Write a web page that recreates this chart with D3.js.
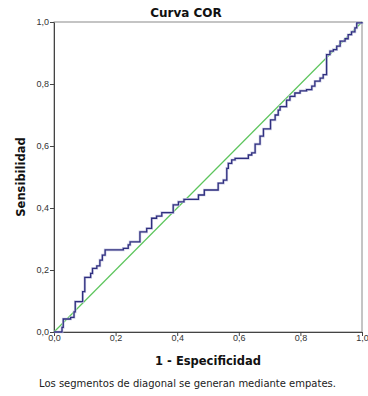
<!DOCTYPE html>
<html>
<head>
<meta charset="utf-8">
<script src="https://cdn.jsdelivr.net/npm/d3@7"></script>
<style>
  body { margin: 0; background: #fff; }
  svg { display: block; font-family: "DejaVu Sans", sans-serif; }
</style>
</head>
<body>
<div id="chart"></div>
<script>
// ROC step curve knots (1 - especificidad, sensibilidad)
const fpr = [0, 0.026, 0.03, 0.054, 0.065, 0.069, 0.093, 0.1, 0.119, 0.125, 0.139, 0.149, 0.157, 0.166,
  0.225, 0.241, 0.247, 0.279, 0.301, 0.317, 0.333, 0.35, 0.387, 0.404, 0.422, 0.469, 0.488, 0.533, 0.55,
  0.561, 0.566, 0.577, 0.588, 0.631, 0.642, 0.653, 0.669, 0.68, 0.703, 0.718, 0.728, 0.734, 0.755, 0.766,
  0.782, 0.799, 0.82, 0.837, 0.847, 0.864, 0.874, 0.885, 0.885, 0.896, 0.907, 0.918, 0.929, 0.945, 0.955,
  0.966, 0.977, 0.983, 1];
const tpr = [0, 0.015, 0.042, 0.047, 0.065, 0.098, 0.13, 0.176, 0.189, 0.205, 0.213, 0.232, 0.248, 0.265,
  0.27, 0.281, 0.291, 0.323, 0.334, 0.367, 0.374, 0.385, 0.41, 0.42, 0.428, 0.442, 0.458, 0.48, 0.49,
  0.528, 0.544, 0.555, 0.56, 0.571, 0.578, 0.606, 0.632, 0.655, 0.684, 0.7, 0.716, 0.727, 0.748, 0.76,
  0.771, 0.778, 0.782, 0.793, 0.809, 0.819, 0.83, 0.835, 0.895, 0.906, 0.911, 0.922, 0.938, 0.946, 0.959,
  0.968, 0.981, 0.997, 1];
const ticks = [0, 0.2, 0.4, 0.6, 0.8, 1.0];

const W = 368, H = 396;
const margin = { top: 22, right: 6, bottom: 64, left: 54 };
const width = W - margin.left - margin.right;
const height = H - margin.top - margin.bottom;

const svg = d3.select("#chart").append("svg")
  .attr("width", W).attr("height", H);

const g = svg.append("g")
  .attr("transform", "translate(" + margin.left + "," + margin.top + ")");

const x = d3.scaleLinear().domain([0, 1]).range([0, width]);
const y = d3.scaleLinear().domain([0, 1]).range([height, 0]);
const fmt = d => d3.format(".1f")(d).replace(".", ",");

// frame
g.append("rect")
  .attr("width", width).attr("height", height)
  .attr("fill", "none").attr("stroke", "#8a8a8a");

// axes
const xAxis = g.append("g")
  .attr("transform", "translate(0," + height + ")")
  .call(d3.axisBottom(x).tickValues(ticks).tickFormat(fmt).tickSize(4).tickSizeOuter(0));
const yAxis = g.append("g")
  .call(d3.axisLeft(y).tickValues(ticks).tickFormat(fmt).tickSize(4).tickSizeOuter(0));
[xAxis, yAxis].forEach(a => {
  a.select(".domain").attr("stroke", "#444");
  a.selectAll("line").attr("stroke", "#444");
  a.selectAll("text").attr("fill", "#333").style("font-size", "9px");
});
xAxis.selectAll("text").attr("dy", "0.6em").attr("y", 4);
yAxis.selectAll("text").attr("x", -5);

// reference diagonal
g.append("line")
  .attr("x1", x(0)).attr("y1", y(0)).attr("x2", x(1)).attr("y2", y(1))
  .attr("stroke", "#5cc55c").attr("stroke-width", 1.2);

// ROC curve
const pts = fpr.map((f, i) => [f, tpr[i]]);
const line = d3.line().x(d => x(d[0])).y(d => y(d[1])).curve(d3.curveStepAfter);
g.append("path").datum(pts)
  .attr("d", line).attr("fill", "none")
  .attr("stroke", "#c9c9e3").attr("stroke-width", 2.6);
g.append("path").datum(pts)
  .attr("d", line).attr("fill", "none")
  .attr("stroke", "#2f2f7f").attr("stroke-width", 1.3);

// titles
svg.append("text")
  .attr("x", 186).attr("y", 17)
  .attr("text-anchor", "middle")
  .style("font-size", "12px").style("font-weight", "bold").attr("fill", "#111")
  .text("Curva COR");

svg.append("text")
  .attr("x", 208).attr("y", 365)
  .attr("text-anchor", "middle")
  .style("font-size", "11.5px").style("font-weight", "bold").attr("fill", "#111")
  .text("1 - Especificidad");

svg.append("text")
  .attr("transform", "translate(25,177) rotate(-90)")
  .attr("text-anchor", "middle")
  .style("font-size", "11.5px").style("font-weight", "bold").attr("fill", "#111")
  .text("Sensibilidad");

svg.append("text")
  .attr("x", 39).attr("y", 387)
  .style("font-size", "10px").attr("fill", "#222")
  .text("Los segmentos de diagonal se generan mediante empates.");
</script>
</body>
</html>
